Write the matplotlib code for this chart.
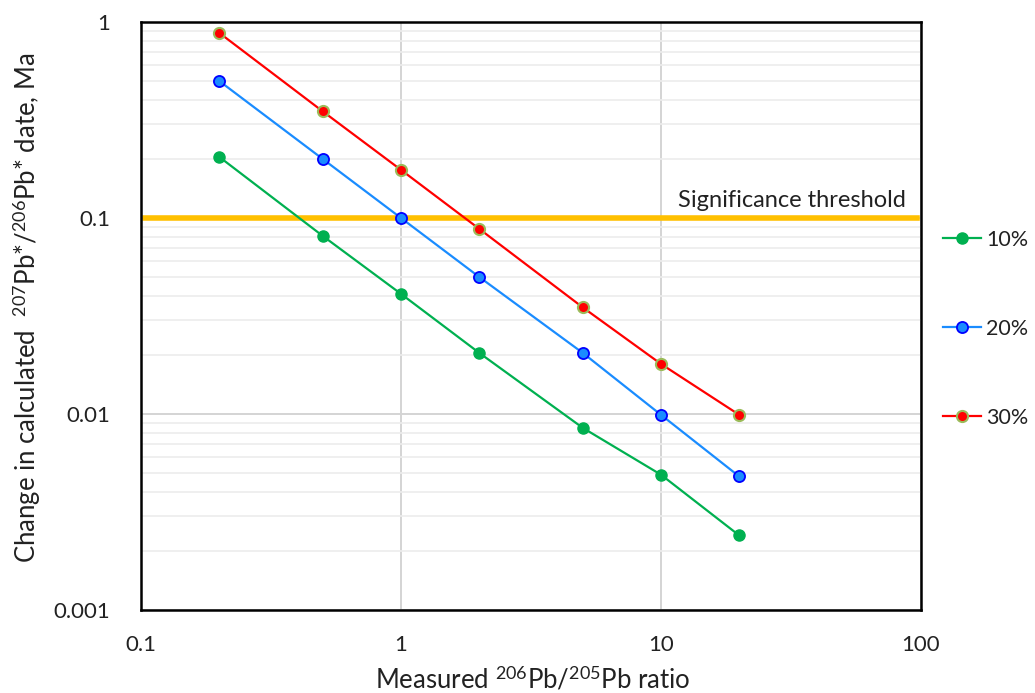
import matplotlib
matplotlib.use("Agg")
import matplotlib.pyplot as plt
from matplotlib.ticker import FixedLocator, NullFormatter, LogLocator

plt.rcParams['font.family'] = ['Lato', 'DejaVu Sans']
plt.rcParams['mathtext.fontset'] = 'custom'
plt.rcParams['mathtext.rm'] = 'Lato'
plt.rcParams['mathtext.it'] = 'Lato:italic'
plt.rcParams['mathtext.bf'] = 'Lato:bold'

ratio = [0.2, 0.5, 1, 2, 5, 10, 20]
s10 = [0.205, 0.081, 0.041, 0.0205, 0.0085, 0.0049, 0.0024]
s20 = [0.5, 0.2, 0.1, 0.05, 0.0205, 0.0099, 0.0048]
s30 = [0.88, 0.35, 0.176, 0.088, 0.035, 0.018, 0.0099]
threshold = 0.1
xticks = [0.1, 1, 10, 100]
xticklabels = ['0.1', '1', '10', '100']
yticks = [0.001, 0.01, 0.1, 1]
yticklabels = ['0.001', '0.01', '0.1', '1']

fig = plt.figure(figsize=(10.35, 6.93), dpi=100)
ax = fig.add_axes([141/1035, 1 - 610/693, 780/1035, 588/693])
ax.set_xscale('log')
ax.set_yscale('log')
ax.set_xlim(0.1, 100)
ax.set_ylim(0.001, 1)

# grid
ax.yaxis.set_minor_locator(LogLocator(base=10, subs=range(2, 10)))
ax.yaxis.set_minor_formatter(NullFormatter())
ax.xaxis.set_minor_locator(FixedLocator([]))
ax.grid(True, which='minor', axis='y', color='#ececec', lw=1.2, zorder=0)
ax.grid(True, which='major', axis='both', color='#d4d4d4', lw=1.4, zorder=0)

ax.axhline(threshold, xmin=0.005, xmax=0.995, color='#FFC000', lw=4, zorder=2)
ax.annotate('Significance threshold', xy=(0.98, threshold), xycoords=('axes fraction', 'data'),
            xytext=(0, 5), textcoords='offset points', ha='right', va='bottom', fontsize=17, color='#222222')

ax.plot(ratio, s10, '-o', color='#00B050', mfc='#00B050', mec='#00B050', ms=8, lw=1.6, label='10%', zorder=3)
ax.plot(ratio, s20, '-o', color='#1A8CFF', mfc='#1A8CFF', mec='#0000FF', mew=1.3, ms=8, lw=1.6, label='20%', zorder=3)
ax.plot(ratio, s30, '-o', color='#FF0000', mfc='#FF0000', mec='#9BBB59', mew=1.5, ms=8, lw=1.6, label='30%', zorder=3)

ax.set_xticks(xticks)
ax.set_xticklabels(xticklabels)
ax.set_yticks(yticks)
ax.set_yticklabels(yticklabels)
ax.tick_params(axis='both', which='both', length=0, labelsize=16, labelcolor='#222222')
ax.tick_params(axis='x', pad=18)
ax.tick_params(axis='y', pad=22)

for sp in ax.spines.values():
    sp.set_linewidth(1.8)
    sp.set_color('black')

fig.text(533/1035, 1 - 688/693, r'Measured $^{206}$Pb/$^{205}$Pb ratio', fontsize=18.5, color='#222222',
         ha='center', va='baseline')
fig.text(27/1035, 1 - 308/693, r'Change in calculated  $^{207}$Pb*/$^{206}$Pb* date, Ma', fontsize=18.5,
         color='#222222', ha='center', va='center', rotation=90)

leg = fig.legend(loc='upper left', bbox_to_anchor=(943/1035, 1 - 230/693), frameon=False,
                 fontsize=15.5, handlelength=1.75, labelspacing=3.2, handletextpad=0.25,
                 borderaxespad=0, borderpad=0)
for t in leg.get_texts():
    t.set_color('#222222')

fig.savefig('out.png', dpi=100)
